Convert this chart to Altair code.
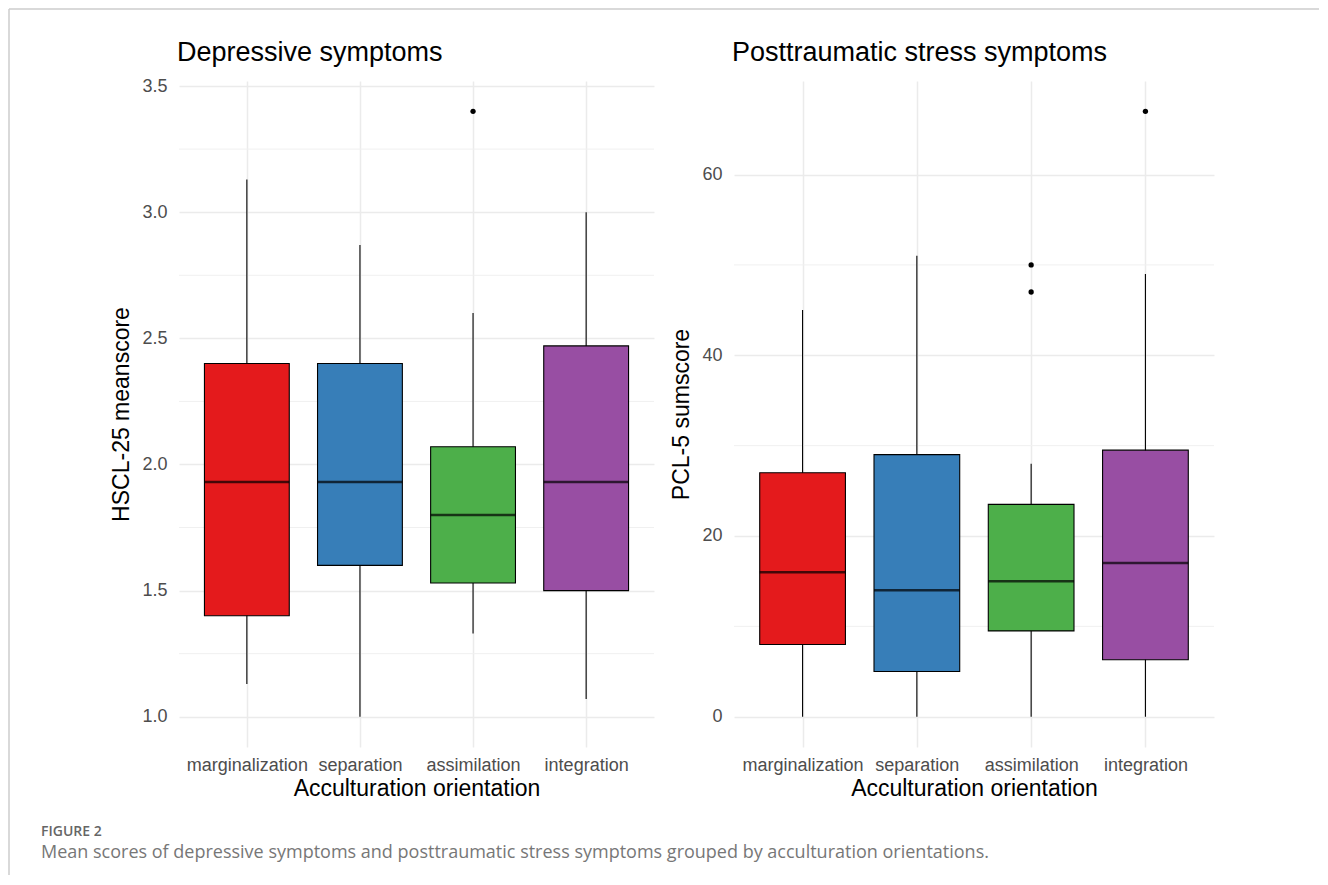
import altair as alt
import pandas as pd

categories = ["marginalization", "separation", "assimilation", "integration"]
colors = ["#E41A1C", "#377EB8", "#4DAF4A", "#984EA3"]

# Depressive symptoms (HSCL-25 meanscore)
dep_low = [1.13, 1.0, 1.33, 1.07]
dep_q1 = [1.40, 1.60, 1.53, 1.50]
dep_med = [1.93, 1.93, 1.80, 1.93]
dep_q3 = [2.40, 2.40, 2.07, 2.47]
dep_high = [3.13, 2.87, 2.60, 3.00]
dep_out_cat = ["assimilation"]
dep_out_val = [3.40]
dep_ticks = [1.0, 1.5, 2.0, 2.5, 3.0, 3.5]
dep_minor = [1.25, 1.75, 2.25, 2.75, 3.25]

# Posttraumatic stress symptoms (PCL-5 sumscore)
pcl_low = [0, 0, 0, 0]
pcl_q1 = [8, 5, 9.5, 6.3]
pcl_med = [16, 14, 15, 17]
pcl_q3 = [27, 29, 23.5, 29.5]
pcl_high = [45, 51, 28, 49]
pcl_out_cat = ["assimilation", "assimilation", "integration"]
pcl_out_val = [50, 47, 67]
pcl_ticks = [0, 20, 40, 60]
pcl_minor = [10, 30, 50]

fig_label_text = "FIGURE 2"
caption_text = ("Mean scores of depressive symptoms and posttraumatic stress "
                "symptoms grouped by acculturation orientations.")

FONT = "Liberation Sans"
W_L, W_R, H = 475, 480, 666
one = pd.DataFrame({"a": [0]})


def panel(title, ytitle, low, q1, med, q3, high, ocat, oval, ticks, minor,
          domain, fmt, width, extra=None):
    df = pd.DataFrame({"cat": categories, "low": low, "q1": q1, "med": med,
                       "q3": q3, "high": high})
    odf = pd.DataFrame({"cat": ocat, "val": oval})
    mdf = pd.DataFrame({"m": minor})

    x = alt.X("cat:N", sort=categories, scale=alt.Scale(type="point", padding=0.6),
              axis=alt.Axis(title="Acculturation orientation", labelAngle=0,
                            labelFontSize=18, labelColor="#4d4d4d", labelFont=FONT,
                            labelPadding=9, titleFontSize=23, titleFont=FONT,
                            titleFontWeight="normal", titleColor="#000000",
                            titlePadding=3, domain=False, ticks=False,
                            grid=True, gridColor="#ebebeb", gridWidth=1.5))
    yscale = alt.Scale(domain=domain, nice=False, zero=False)
    yaxis = alt.Axis(title=ytitle, values=ticks, format=fmt, labelFontSize=18,
                     labelColor="#4d4d4d", labelFont=FONT, labelPadding=12,
                     titleFontSize=23, titleFont=FONT, titleFontWeight="normal",
                     titleColor="#000000", titlePadding=8, domain=False,
                     ticks=False, grid=True, gridColor="#ebebeb", gridWidth=1.5)

    minor_rules = alt.Chart(mdf).mark_rule(color="#f0f0f0", strokeWidth=1).encode(
        y=alt.Y("m:Q", scale=yscale, axis=yaxis))
    base = alt.Chart(df)
    whisk = base.mark_rule(color="#000000", strokeWidth=1.1).encode(
        x=x, y=alt.Y("low:Q", scale=yscale), y2="high:Q")
    box = base.mark_bar(size=0.75 * width / 4.2, stroke="#000000",
                        strokeWidth=1.1).encode(
        x=x, y=alt.Y("q1:Q", scale=yscale), y2="q3:Q",
        color=alt.Color("cat:N", sort=categories,
                        scale=alt.Scale(domain=categories, range=colors),
                        legend=None))
    medr = base.mark_tick(color="#000000", thickness=2.5,
                          size=0.75 * width / 4.2).encode(
        x=x, y=alt.Y("med:Q", scale=yscale))
    outl = alt.Chart(odf).mark_circle(color="#000000", size=28, opacity=1).encode(
        x=x, y=alt.Y("val:Q", scale=yscale))
    ttl = alt.Chart(one).mark_text(
        text=title, align="left", baseline="alphabetic", fontSize=27, font=FONT,
        color="#000000").encode(x=alt.value(-2), y=alt.value(-20))
    layers = [minor_rules, whisk, box, medr, outl, ttl]
    if extra:
        layers += extra
    return alt.layer(*layers).properties(width=width, height=H)


# Frame and caption, positioned relative to the left plot origin (page 178, 80)
OX, OY = 178, 80
top_line = alt.Chart(one).mark_rule(color="#cccccc", strokeWidth=1.5).encode(
    x=alt.value(8 - OX), x2=alt.value(1318 - OX), y=alt.value(8 - OY),
    y2=alt.value(8 - OY))
left_line = alt.Chart(one).mark_rule(color="#cccccc", strokeWidth=1.5).encode(
    x=alt.value(8 - OX), x2=alt.value(8 - OX), y=alt.value(8 - OY),
    y2=alt.value(874 - OY))
fig_label = alt.Chart(one).mark_text(
    text=fig_label_text, align="left", baseline="alphabetic", fontSize=14,
    font="Open Sans", fontWeight=600, color="#666666").encode(
    x=alt.value(40 - OX), y=alt.value(835 - OY))
caption = alt.Chart(one).mark_text(
    text=caption_text, align="left", baseline="alphabetic", fontSize=18,
    font="Open Sans", color="#777777").encode(
    x=alt.value(40 - OX), y=alt.value(857 - OY))

left = panel("Depressive symptoms", "HSCL-25 meanscore", dep_low, dep_q1, dep_med,
             dep_q3, dep_high, dep_out_cat, dep_out_val, dep_ticks, dep_minor,
             [0.88, 3.52], ".1f", W_L,
             extra=[top_line, left_line, fig_label, caption])
right = panel("Posttraumatic stress symptoms", "PCL-5 sumscore", pcl_low, pcl_q1,
              pcl_med, pcl_q3, pcl_high, pcl_out_cat, pcl_out_val, pcl_ticks,
              pcl_minor, [-3.35, 70.35], "d", W_R)

chart = alt.hconcat(left, right, spacing=80, bounds="flush").properties(
    padding=0, background="#ffffff").configure_view(strokeWidth=0,
                                                    stroke="transparent")

chart.save("out.html", embed_options={"renderer": "svg", "actions": False})
